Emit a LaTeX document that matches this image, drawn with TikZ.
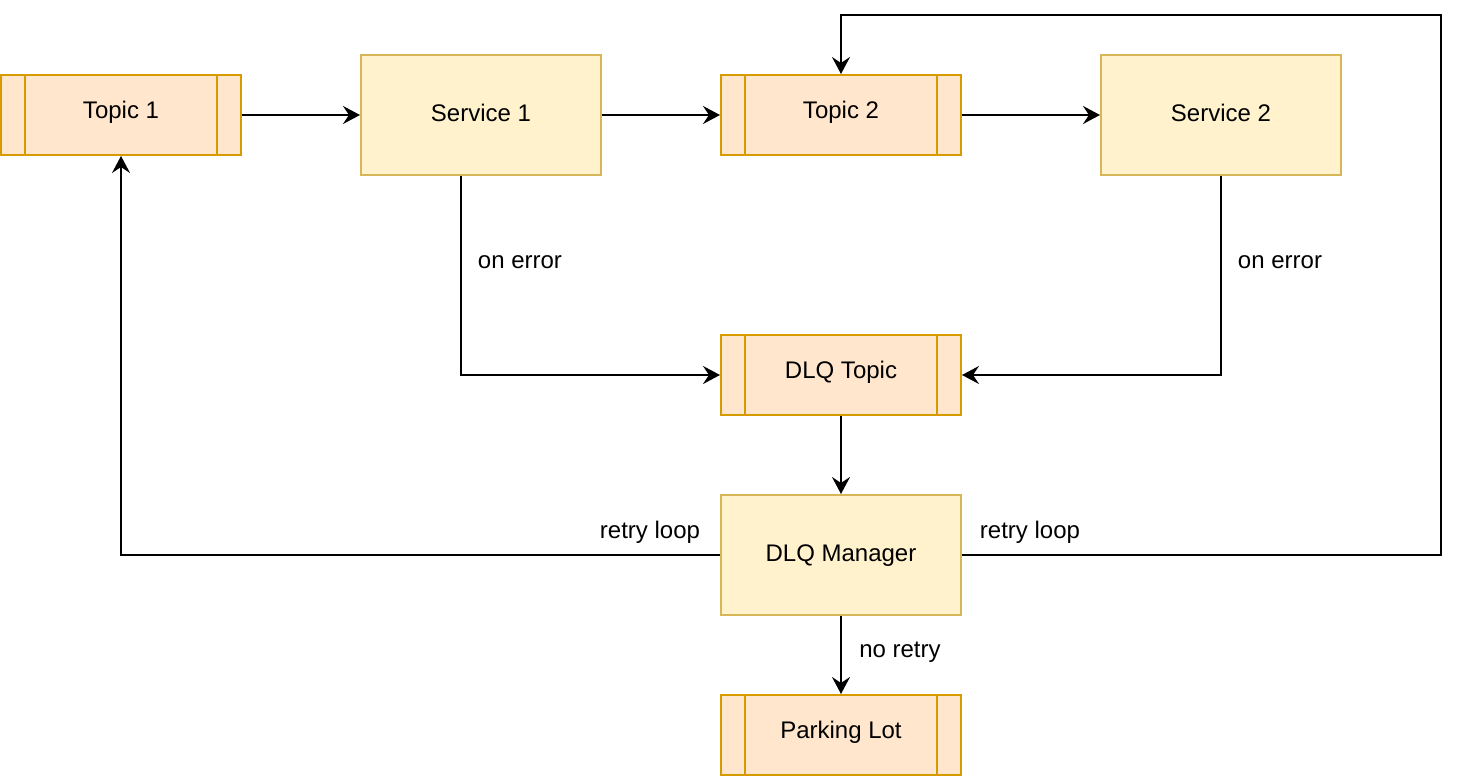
\documentclass[tikz,border=0pt]{standalone}
\usepackage{fontspec}
\setmainfont{Liberation Sans}
\usetikzlibrary{arrows.meta}
\definecolor{sujetfond}{HTML}{FFE6CC}
\definecolor{sujettrait}{HTML}{D79B00}
\definecolor{servicefond}{HTML}{FFF2CC}
\definecolor{servicetrait}{HTML}{D6B656}
\begin{document}
\begin{tikzpicture}[x=0.5pt,y=-0.5pt,font=\fontsize{12}{14}\selectfont]
	% Styles (MODIFIABLES)
	\tikzstyle{fleche}=[-{Stealth[length=8.5pt,width=9pt,inset=3pt]},line width=1pt]
	\tikzstyle{sujet}=[draw=sujettrait,fill=sujetfond,line width=1pt,minimum width=120pt,minimum height=40pt,inner sep=0pt,
		text height=9pt,text depth=6pt,
		path picture={\draw[sujettrait,line width=1pt]
			([xshift=12pt]path picture bounding box.north west)--([xshift=12pt]path picture bounding box.south west)
			([xshift=-12pt]path picture bounding box.north east)--([xshift=-12pt]path picture bounding box.south east);}]
	\tikzstyle{service}=[draw=servicetrait,fill=servicefond,line width=1pt,minimum width=120pt,minimum height=60pt,inner sep=0pt,
		text height=9pt,text depth=3pt]
	\tikzstyle{commentaire}=[black,inner sep=0pt,text height=9pt,text depth=3pt]
	% Dimensions (MODIFIABLES)
	\def\ColA{121}
	\def\ColB{481}
	\def\ColC{841}
	\def\ColD{1221}
	\def\NiveauA{115}
	\def\NiveauB{375}
	\def\NiveauC{555}
	\def\NiveauD{735}
	\useasboundingbox (0,0) rectangle (1458,776);
	% Noeuds
	\node[sujet] (T1) at ({\ColA},{\NiveauA}) {Topic 1};
	\node[service] (S1) at ({\ColB},{\NiveauA}) {Service 1};
	\node[sujet] (T2) at ({\ColC},{\NiveauA}) {Topic 2};
	\node[service] (S2) at ({\ColD},{\NiveauA}) {Service 2};
	\node[sujet] (DLQ) at ({\ColC},{\NiveauB}) {DLQ Topic};
	\node[service] (DLQM) at ({\ColC},{\NiveauC}) {DLQ Manager};
	\node[sujet] (PL) at ({\ColC},{\NiveauD}) {Parking Lot};
	\coordinate (coinHD) at (1441,15);
	%
	\node[commentaire] (E1) at (520,262) {on error};
	\node[commentaire] (E2) at (1280,262) {on error};
	\node[commentaire] (R1) at (650,532) {retry loop};
	\node[commentaire] (R2) at (1030,532) {retry loop};
	\node[commentaire] (NR) at (900,651) {no retry};
	% Arcs
	\draw[fleche] (T1.east)--(S1.west);
	\draw[fleche] (S1.east)--(T2.west);
	\draw[fleche] (T2.east)--(S2.west);
	\draw[fleche] ([xshift=-10pt]S1.south) |- (DLQ.west);
	\draw[fleche] (S2.south) |- (DLQ.east);
	\draw[fleche] (DLQ.south)--(DLQM.north);
	\draw[fleche] (DLQM.west) -| (T1.south);
	\draw[fleche] (DLQM.east) -| (coinHD) -| (T2.north);
	\draw[fleche] (DLQM.south)--(PL.north);
\end{tikzpicture}
\end{document}
